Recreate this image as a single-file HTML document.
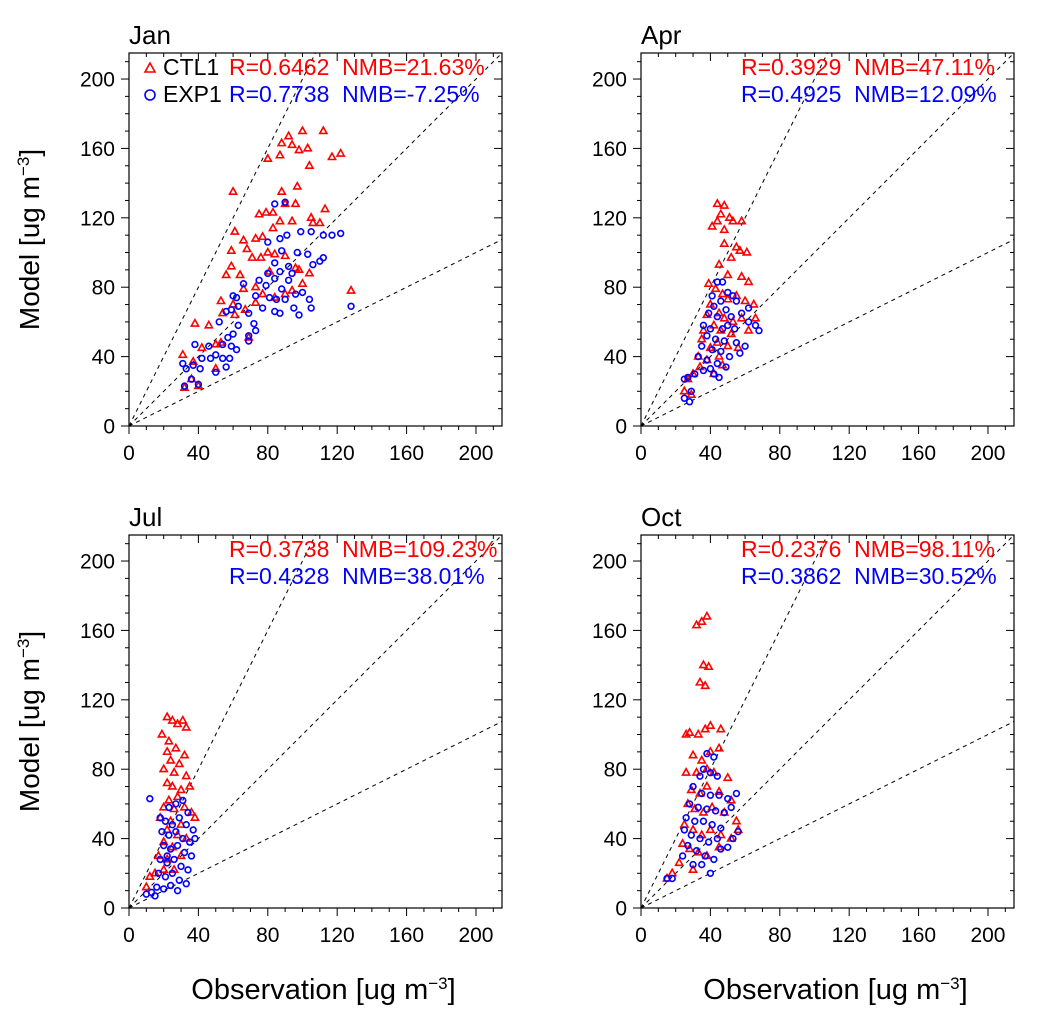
<!DOCTYPE html>
<html><head><meta charset="utf-8"><style>
body{margin:0;background:#fff;}
svg{display:block;font-family:"Liberation Sans",sans-serif;}
text{white-space:pre;}
</style></head><body>
<svg id="fig" width="1038" height="1018" viewBox="0 0 1038 1018" xmlns="http://www.w3.org/2000/svg"></svg>
<script>
const tickVals=[0,40,80,120,160,200];
const panelNames=["Jan","Apr","Jul","Oct"];
const ctlStats=["R=0.6462  NMB=21.63%","R=0.3929  NMB=47.11%","R=0.3738  NMB=109.23%","R=0.2376  NMB=98.11%"];
const expStats=["R=0.7738  NMB=-7.25%","R=0.4925  NMB=12.09%","R=0.4328  NMB=38.01%","R=0.3862  NMB=30.52%"];
const janCtl=[[112,170],[100,170],[92,167],[88,163],[94,162],[98,159],[103,160],[87,156],[80,154],[117,155],[122,157],[104,150],[97,138],[60,135],[88,135],[90,128],[96,128],[113,125],[75,122],[83,123],[79,123],[105,120],[87,118],[94,118],[110,117],[106,117],[61,112],[77,109],[73,108],[83,114],[66,107],[59,101],[68,102],[80,100],[84,99],[71,97],[76,97],[90,98],[59,92],[56,87],[64,87],[81,89],[98,90],[104,88],[128,78],[66,79],[73,80],[100,82],[53,72],[60,70],[61,64],[54,65],[38,59],[46,58],[67,67],[73,71],[69,51],[42,45],[50,47],[53,48],[31,41],[37,37],[50,33],[32,22],[40,23],[36,27],[77,76],[84,74],[90,76],[94,78],[96,91]];
const janExp=[[84,128],[90,129],[99,112],[91,110],[105,112],[112,110],[117,110],[122,111],[87,108],[80,106],[88,101],[97,100],[103,99],[112,97],[110,95],[106,93],[84,94],[92,92],[87,89],[94,88],[80,88],[84,85],[75,84],[66,82],[92,84],[79,81],[88,79],[100,77],[96,76],[104,73],[105,68],[128,69],[60,75],[62,74],[73,75],[81,74],[85,73],[90,73],[63,69],[56,66],[59,67],[69,65],[77,68],[84,66],[87,65],[95,68],[98,64],[52,60],[63,58],[72,59],[73,55],[69,52],[60,53],[57,51],[54,47],[59,46],[62,44],[38,47],[46,46],[42,39],[47,39],[54,39],[50,41],[58,39],[31,36],[41,33],[50,31],[37,35],[33,33],[56,34],[32,23],[40,24],[36,27],[69,49]];
const aprCtl=[[44,128],[48,127],[46,122],[51,120],[53,118],[41,115],[44,118],[48,113],[55,103],[57,101],[52,97],[45,93],[50,87],[58,86],[62,83],[39,82],[43,79],[47,76],[50,73],[55,75],[60,72],[65,70],[40,70],[38,64],[45,65],[48,62],[53,60],[58,62],[42,58],[36,55],[46,55],[52,53],[62,55],[66,62],[44,48],[40,45],[50,46],[33,40],[38,38],[45,40],[30,30],[34,34],[27,27],[25,20],[29,18],[42,30],[47,35],[56,45],[35,50],[48,105],[58,118],[61,100]];
const aprExp=[[44,83],[47,83],[50,77],[41,75],[53,75],[46,72],[55,72],[42,69],[49,67],[39,65],[44,63],[52,63],[58,65],[62,60],[66,58],[68,55],[36,58],[40,56],[47,56],[54,56],[38,52],[43,50],[48,49],[55,48],[60,46],[35,46],[41,44],[46,43],[51,40],[57,42],[33,40],[38,38],[44,36],[49,34],[36,32],[42,30],[31,30],[27,28],[25,27],[29,20],[25,16],[28,14],[62,68],[50,58],[45,28],[40,33]];
const julCtl=[[22,110],[25,108],[28,106],[31,108],[33,104],[19,100],[22,90],[27,92],[32,88],[24,85],[29,83],[20,80],[26,78],[33,76],[22,72],[25,70],[30,68],[35,70],[28,64],[23,62],[20,58],[26,57],[32,58],[36,55],[18,52],[24,50],[30,48],[22,45],[28,42],[20,38],[33,40],[25,35],[17,30],[22,28],[30,30],[20,22],[15,20],[12,18],[10,12],[26,22],[38,52],[23,96]];
const julExp=[[18,52],[23,58],[27,60],[31,62],[34,55],[12,63],[21,50],[25,48],[29,52],[33,48],[37,45],[19,44],[23,42],[27,44],[31,40],[35,38],[20,36],[24,34],[28,36],[32,32],[36,30],[18,28],[22,26],[26,28],[30,24],[34,22],[17,20],[21,18],[25,20],[29,16],[33,14],[16,12],[20,11],[24,13],[28,10],[13,9],[10,8],[15,7],[38,40],[22,30]];
const octCtl=[[32,163],[35,165],[38,168],[36,140],[39,139],[34,130],[37,128],[28,101],[33,100],[37,103],[40,105],[46,103],[30,88],[35,85],[40,90],[45,92],[50,75],[26,78],[32,78],[38,80],[42,78],[29,68],[34,66],[38,70],[45,67],[52,62],[27,60],[31,57],[36,55],[41,58],[48,55],[55,50],[25,48],[30,45],[35,42],[40,45],[46,42],[52,40],[24,37],[28,34],[33,32],[38,30],[45,35],[22,26],[18,20],[15,17],[30,22],[56,45],[26,100]];
const octExp=[[38,89],[42,87],[36,80],[40,78],[34,76],[44,76],[30,70],[35,66],[40,65],[45,65],[50,63],[55,66],[28,60],[33,58],[38,57],[43,56],[48,55],[52,58],[26,52],[31,50],[36,50],[41,48],[46,46],[56,44],[25,45],[29,42],[34,40],[39,38],[44,40],[50,35],[27,36],[32,33],[37,30],[42,28],[35,25],[24,30],[40,20],[30,25],[18,17],[15,17],[53,40],[46,34]];
const ctlData=[janCtl,aprCtl,julCtl,octCtl];
const expData=[janExp,aprExp,julExp,octExp];
const lineSlopes=[2,1,0.5];

const NS="http://www.w3.org/2000/svg";
const svg=document.getElementById("fig");
function mk(tag,attrs,parent){const e=document.createElementNS(NS,tag);for(const k in attrs)e.setAttribute(k,attrs[k]);(parent||svg).appendChild(e);return e;}
const origins=[[129,426],[641,426],[129,908],[641,908]];
const MAX=215, W=373;
origins.forEach((o,p)=>{
  const g=mk("g",{});
  
  
  const sx=v=>o[0]+v/MAX*W, sy=v=>o[1]-v/MAX*W;
  const clip=mk("clipPath",{id:"c"+p},g);
  mk("rect",{x:o[0],y:o[1]-W,width:W,height:W},clip);
  lineSlopes.forEach(s=>{
    const xe=Math.min(MAX,MAX/s);
    const l=mk("line",{x1:sx(0),y1:sy(0),x2:sx(xe),y2:sy(xe*s),stroke:"#000","stroke-width":1,"stroke-dasharray":"4,4"},g);
    
    
  });
  const pts=mk("g",{"clip-path":"url(#c"+p+")"},g);
  ctlData[p].forEach(d=>{
    const x=sx(d[0]),y=sy(d[1]);
    const t=mk("polygon",{points:`${x},${y-4} ${x-3.6},${y+2.4} ${x+3.6},${y+2.4}`,fill:"none",stroke:"#f00","stroke-width":1.6},pts);
    
    
  });
  expData[p].forEach(d=>{
    const c=mk("circle",{cx:sx(d[0]),cy:sy(d[1]),r:2.9,fill:"none",stroke:"#00f","stroke-width":1.6},pts);
    
    
  });
  const fr=mk("rect",{x:o[0],y:o[1]-W,width:W,height:W,fill:"none",stroke:"#000","stroke-width":1.2},g);
  
  
  for(let v=0;v<=MAX;v+=10){
    const major=v%40===0, L=major?8:4;
    mk("line",{x1:sx(v),y1:o[1],x2:sx(v),y2:o[1]+L,stroke:"#000","stroke-width":1},g);
    mk("line",{x1:sx(v),y1:o[1]-W,x2:sx(v),y2:o[1]-W+L,stroke:"#000","stroke-width":1},g);
    mk("line",{x1:o[0],y1:sy(v),x2:o[0]-L,y2:sy(v),stroke:"#000","stroke-width":1},g);
    mk("line",{x1:o[0]+W,y1:sy(v),x2:o[0]+W-L,y2:sy(v),stroke:"#000","stroke-width":1},g);
  }
  tickVals.forEach(v=>{
    const tx=mk("text",{x:sx(v),y:o[1]+34,"font-size":21,"text-anchor":"middle"},g);tx.textContent=v;
    
    
    const ty=mk("text",{x:o[0]-14,y:sy(v)+7.5,"font-size":21,"text-anchor":"end"},g);ty.textContent=v;
    
    
  });
  const ttl=mk("text",{x:o[0],y:o[1]-W-9,"font-size":26},g);ttl.textContent=panelNames[p];
  
  
  const r1=mk("text",{x:o[0]+100,y:o[1]-W+22,"font-size":23,fill:"#f00"},g);r1.textContent=ctlStats[p];
  
  
  const r2=mk("text",{x:o[0]+100,y:o[1]-W+49,"font-size":23,fill:"#00f"},g);r2.textContent=expStats[p];
  
  
  if(p===0){
    const tx=o[0]+21,ty=o[1]-W+15;
    const lt=mk("polygon",{points:`${tx},${ty-5} ${tx-5},${ty+4} ${tx+5},${ty+4}`,fill:"none",stroke:"#f00","stroke-width":1.6},g);
    
    
    const lc=mk("circle",{cx:tx,cy:ty+27,r:5,fill:"none",stroke:"#00f","stroke-width":1.6},g);
    
    
    const a=mk("text",{x:o[0]+34,y:o[1]-W+22,"font-size":23},g);a.textContent="CTL1";
    
    
    const b=mk("text",{x:o[0]+34,y:o[1]-W+49,"font-size":23},g);b.textContent="EXP1";
    
    
  }
  if(p%2===0){
    const yl=mk("text",{transform:`translate(${o[0]-90},${o[1]-W/2}) rotate(-90)`,"font-size":28,"text-anchor":"middle"},g);
    yl.innerHTML='Model [ug m<tspan dy="-10" font-size="17">−3</tspan><tspan dy="10">]</tspan>';
    
    
  }
  if(p>=2){
    const xl=mk("text",{x:o[0]+W/2+8,y:o[1]+91,"font-size":29,"text-anchor":"middle"},g);
    xl.innerHTML='Observation [ug m<tspan dy="-10" font-size="17">−3</tspan><tspan dy="10">]</tspan>';
    
    
  }
});
</script>
</body></html>
